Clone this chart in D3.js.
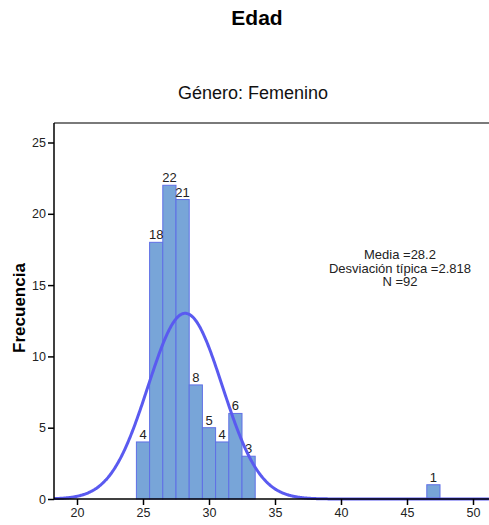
<!DOCTYPE html>
<html><head><meta charset="utf-8">
<script src="https://cdn.jsdelivr.net/npm/d3@7"></script>
<style>body{margin:0;background:#fff}svg{display:block}text{font-family:"Liberation Sans",Arial,sans-serif}</style>
</head><body>
<svg id="c" width="489" height="525"></svg>
<script>
const binCenters = [25, 26, 27, 28, 29, 30, 31, 32, 33, 47];
const counts     = [4, 18, 22, 21, 8, 5, 4, 6, 3, 1];
const xTicks = [20, 25, 30, 35, 40, 45, 50];
const yTicks = [0, 5, 10, 15, 20, 25];
const mean = 28.2, sd = 2.818, n = 92, binWidth = 1;
const statLines = ["Media =28.2", "Desviación típica =2.818", "N =92"];

const svg = d3.select("#c");
const x = d3.scaleLinear().domain([20, 50]).range([77, 473]);
const y = d3.scaleLinear().domain([0, 25]).range([499, 142.5]);
const pLeft = 54, pRight = 489, pTop = 123, pBottom = 499;

// titles
svg.append("text").attr("x", 257).attr("y", 25).attr("text-anchor", "middle")
  .attr("font-size", 21).attr("font-weight", "bold").text("Edad");
svg.append("text").attr("x", 253).attr("y", 99).attr("text-anchor", "middle")
  .attr("font-size", 18).attr("fill", "#111").text("Género: Femenino");

// frame top
svg.append("line").attr("x1", pLeft).attr("x2", pRight).attr("y1", pTop).attr("y2", pTop)
  .attr("stroke", "#7a7a7a").attr("stroke-width", 2);

// bars
svg.append("g").selectAll("rect").data(binCenters).join("rect")
  .attr("x", (d) => x(d - binWidth / 2))
  .attr("width", (d) => x(d + binWidth / 2) - x(d - binWidth / 2))
  .attr("y", (d, i) => y(counts[i]))
  .attr("height", (d, i) => y(0) - y(counts[i]))
  .attr("fill", "#78a5d8").attr("stroke", "#5f6fe6").attr("stroke-width", 1);

// bar labels
svg.append("g").selectAll("text").data(binCenters).join("text")
  .attr("x", (d) => x(d))
  .attr("y", (d, i) => y(counts[i]) - 3)
  .attr("text-anchor", "middle").attr("font-size", 13).attr("fill", "#222")
  .text((d, i) => counts[i]);

// normal curve
const pdf = (v) => n * binWidth * Math.exp(-0.5 * ((v - mean) / sd) ** 2) / (sd * Math.sqrt(2 * Math.PI));
const pts = d3.range(x.invert(pLeft), x.invert(pRight) + 0.01, 0.05).map((v) => [v, pdf(v)]);
svg.append("path").datum(pts)
  .attr("d", d3.line().x((d) => x(d[0])).y((d) => y(d[1])).curve(d3.curveBasis))
  .attr("fill", "none").attr("stroke", "#5a5af0").attr("stroke-width", 3);

// axes
const yAxis = svg.append("g").attr("transform", `translate(${pLeft},0)`)
  .call(d3.axisLeft(y).tickValues(yTicks).tickSize(6).tickPadding(2));
yAxis.select(".domain").attr("d", `M0,${pTop}V${pBottom}`).attr("stroke", "#000").attr("stroke-width", 1.5);
yAxis.selectAll("text").attr("font-size", 12.5).attr("fill", "#222").attr("font-family", "Liberation Sans, Arial, sans-serif");

const xAxis = svg.append("g").attr("transform", `translate(0,${pBottom})`)
  .call(d3.axisBottom(x).tickValues(xTicks).tickSize(6).tickPadding(3));
xAxis.select(".domain").attr("d", `M${pLeft},0H${pRight}`).attr("stroke", "#000").attr("stroke-width", 1.5);
xAxis.selectAll("text").attr("font-size", 12.5).attr("fill", "#222").attr("font-family", "Liberation Sans, Arial, sans-serif");
xAxis.selectAll(".tick line").attr("stroke-width", 1.5);
yAxis.selectAll(".tick line").attr("stroke-width", 1.5);

// y label
svg.append("text").attr("transform", "translate(25,308) rotate(-90)").attr("text-anchor", "middle")
  .attr("font-size", 17).attr("font-weight", "bold").text("Frecuencia");

// stats
svg.append("g").selectAll("text").data(statLines).join("text")
  .attr("x", 400).attr("y", (d, i) => 259 + i * 13.5).attr("text-anchor", "middle")
  .attr("font-size", 13).attr("fill", "#222").text((d) => d);
</script>
</body></html>
